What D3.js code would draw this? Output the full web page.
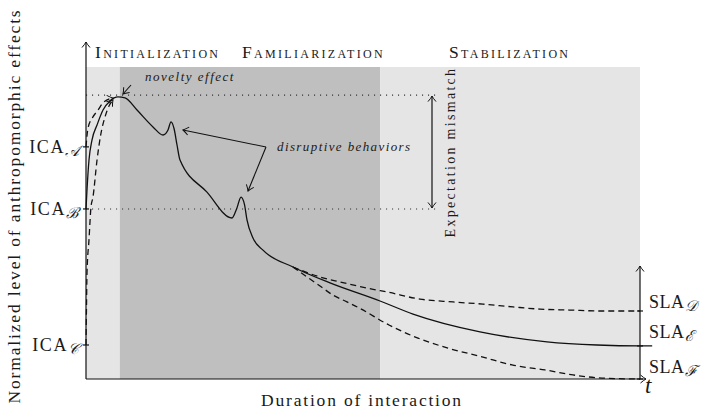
<!DOCTYPE html>
<html>
<head>
<meta charset="utf-8">
<script src="https://cdn.jsdelivr.net/npm/d3@7"></script>
<style>
  body { margin: 0; background: #fff; }
  svg text { font-family: "Liberation Serif", "Times New Roman", serif; fill: #1a1a1a; }
</style>
</head>
<body>
<svg width="716" height="412"></svg>
<script>
// phases of interaction (t from 0 to 100)
var phaseNames = ["Initialization", "Familiarization", "Stabilization"];
var phaseStart = [0, 6.1, 53.1];
var phaseEnd = [6.1, 53.1, 100];
var phaseFill = ["#e5e5e5", "#bfbfbf", "#e5e5e5"];

// initial / stable levels (normalized 0..100)
var icaSub = ["\u{1D49C}", "\u212C", "\u{1D49E}"];
var icaValues = [74.4, 54.5, 10.9];
var slaSub = ["\u{1D49F}", "\u2130", "\u2131"];
var slaValues = [21.8, 10.6, 0];
var peakValue = 91;

// main curve (solid), starts at ICA_B
var mainT = [0, 0.18, 0.54, 1.08, 1.99, 3.07, 4.33, 5.78, 7.04, 9.21, 12.09, 13.9, 14.8, 15.34, 15.9, 16.43, 16.97, 21.84, 26.35, 27.2, 27.98, 28.6, 29.06, 30.14, 31.95, 37.36, 44.04, 53.07, 59.03, 71.12, 83.21, 92.24, 100, 102.2];
var mainY = [54.5, 60.6, 70.2, 76.6, 81.4, 86.2, 89.1, 90.4, 90.1, 86.2, 80.8, 78.2, 79.8, 82.4, 80.2, 75.0, 70.2, 59.9, 51.6, 54.6, 58.3, 56.0, 51.0, 45.2, 41.3, 35.9, 30.8, 25.0, 20.8, 15.1, 11.9, 10.9, 10.6, 10.6];

// dashed rise from ICA_A
var riseAT = [0, 0.36, 1.26, 2.17, 3.07, 4.87];
var riseAY = [74.4, 80.4, 84.0, 86.2, 88.5, 90.1];
// dashed rise from ICA_C
var riseCT = [0, 0.09, 0.18, 0.54, 0.9, 1.26, 1.99, 2.71, 3.43, 4.15, 4.87];
var riseCY = [10.9, 23.1, 34.0, 44.6, 55.1, 58.3, 70.2, 78.8, 84.0, 87.5, 89.4];

// dashed endings to SLA_D and SLA_F
var endDT = [37.36, 42.78, 45.85, 48.56, 51.62, 54.33, 60.29, 66.25, 71.66, 77.08, 81.95, 87.36, 92.78, 100];
var endDY = [35.9, 32.4, 31.1, 30.0, 28.8, 27.9, 25.6, 24.7, 24.0, 23.1, 22.4, 22.1, 21.8, 21.8];
var endFT = [37.36, 39.89, 42.24, 44.58, 47.11, 49.28, 54.69, 59.93, 65.34, 71.48, 76.9, 82.85, 87.9, 93.14, 100];
var endFY = [35.9, 32.7, 29.8, 26.9, 24.7, 22.8, 17.3, 13.1, 9.9, 7.1, 4.5, 2.9, 1.3, 0.3, 0];

var svg = d3.select("svg");
var x = d3.scaleLinear().domain([0, 100]).range([86, 640]);
var y = d3.scaleLinear().domain([0, 100]).range([379, 67]);

function pts(ts, ys) { return ts.map(function(t, i) { return [t, ys[i]]; }); }
var line = d3.line()
    .x(function(d) { return x(d[0]); })
    .y(function(d) { return y(d[1]); })
    .curve(d3.curveMonotoneX);

// arrow marker, open "to" tip
var defs = svg.append("defs");
defs.append("marker")
    .attr("id", "tip")
    .attr("viewBox", "-7 -5 9 10")
    .attr("refX", 0).attr("refY", 0)
    .attr("markerWidth", 9).attr("markerHeight", 10)
    .attr("markerUnits", "userSpaceOnUse")
    .attr("orient", "auto-start-reverse")
  .append("path")
    .attr("d", "M-5.5,-4 Q-2,-1 0,0 Q-2,1 -5.5,4")
    .attr("fill", "none").attr("stroke", "#111").attr("stroke-width", 1);

// phase backgrounds
svg.append("g").selectAll("rect")
  .data(phaseNames)
  .enter().append("rect")
    .attr("x", function(d, i) { return x(phaseStart[i]); })
    .attr("y", y(100))
    .attr("width", function(d, i) { return x(phaseEnd[i]) - x(phaseStart[i]); })
    .attr("height", y(0) - y(100))
    .attr("fill", function(d, i) { return phaseFill[i]; });

// phase titles (small caps)
var titleX = [95, 242, 449];
svg.append("g").selectAll("text")
  .data(phaseNames)
  .enter().append("text")
    .attr("x", function(d, i) { return titleX[i]; })
    .attr("y", 58)
    .style("font-variant", "small-caps")
    .style("font-size", "17.5px")
    .style("letter-spacing", "2.3px")
    .text(function(d) { return d; });

// dotted guide lines at peak and ICA_B
svg.append("g").selectAll("line")
  .data([peakValue, icaValues[1]])
  .enter().append("line")
    .attr("x1", x(0)).attr("x2", 437)
    .attr("y1", function(d) { return y(d); })
    .attr("y2", function(d) { return y(d); })
    .attr("stroke", "#333").attr("stroke-width", 1.1)
    .attr("stroke-dasharray", "1.1 4.9");

// expectation mismatch arrow
svg.append("line")
    .attr("x1", 432).attr("x2", 432)
    .attr("y1", y(peakValue) + 1).attr("y2", y(icaValues[1]) - 1)
    .attr("stroke", "#111").attr("stroke-width", 1.2)
    .attr("marker-start", "url(#tip)").attr("marker-end", "url(#tip)");
svg.append("text")
    .attr("transform", "translate(455,152) rotate(-90)")
    .attr("text-anchor", "middle")
    .style("font-size", "14px")
    .style("letter-spacing", "2.3px")
    .text("Expectation mismatch");

// curves
var curves = svg.append("g").attr("fill", "none").attr("stroke", "#111").attr("stroke-width", 1.3);
curves.append("path").attr("d", line(pts(mainT, mainY)));
curves.append("path").attr("d", line(pts(riseAT, riseAY)))
    .attr("stroke-dasharray", "6 4").attr("marker-end", "url(#tip)");
curves.append("path").attr("d", line(pts(riseCT, riseCY)))
    .attr("stroke-dasharray", "6 4").attr("marker-end", "url(#tip)");
curves.append("path").attr("d", line(pts(endDT, endDY)))
    .attr("stroke-dasharray", "6 4");
curves.append("path").attr("d", line(pts(endFT, endFY)))
    .attr("stroke-dasharray", "6 4");

// axes
var axes = svg.append("g").attr("stroke", "#111").attr("stroke-width", 1.2);
axes.append("line").attr("x1", x(0)).attr("y1", y(0)).attr("x2", x(0)).attr("y2", 42)
    .attr("marker-end", "url(#tip)");
axes.append("line").attr("x1", x(0)).attr("y1", y(0)).attr("x2", 646).attr("y2", y(0))
    .attr("marker-end", "url(#tip)");
axes.append("line").attr("x1", x(100)).attr("y1", y(0)).attr("x2", x(100)).attr("y2", 266)
    .attr("marker-end", "url(#tip)");

// ticks
axes.selectAll(".tick-l").data(icaValues).enter().append("line")
    .attr("x1", x(0) - 3).attr("x2", x(0) + 3)
    .attr("y1", function(d) { return y(d); }).attr("y2", function(d) { return y(d); });
axes.selectAll(".tick-r").data(slaValues).enter().append("line")
    .attr("x1", x(100) - 3).attr("x2", x(100) + 3)
    .attr("y1", function(d) { return y(d); }).attr("y2", function(d) { return y(d); });

// ICA labels
var ica = svg.append("g").selectAll("text")
  .data(icaValues)
  .enter().append("text")
    .attr("x", 79)
    .attr("y", function(d) { return y(d) + 6; })
    .attr("text-anchor", "end")
    .style("font-size", "18px");
ica.append("tspan").style("letter-spacing", "1.6px").text("ICA");
ica.append("tspan").attr("dy", 3).style("font-size", "15px").style("font-style", "italic")
    .text(function(d, i) { return icaSub[i]; });

// SLA labels
var slaY = [302, 332, 367];
var sla = svg.append("g").selectAll("text")
  .data(slaValues)
  .enter().append("text")
    .attr("x", 649)
    .attr("y", function(d, i) { return slaY[i] + 6; })
    .style("font-size", "18px");
sla.append("tspan").style("letter-spacing", "0.5px").text("SLA");
sla.append("tspan").attr("dy", 3).style("font-size", "15px").style("font-style", "italic")
    .text(function(d, i) { return slaSub[i]; });

svg.append("text").attr("x", 645).attr("y", 393)
    .style("font-size", "23px").style("font-style", "italic").text("t");

// annotations
var ann = svg.append("g").attr("stroke", "#111").attr("stroke-width", 1.1).attr("fill", "none");
ann.append("line").attr("x1", 131).attr("y1", 85).attr("x2", 123).attr("y2", 94)
    .attr("marker-end", "url(#tip)");
ann.append("line").attr("x1", 266).attr("y1", 147).attr("x2", 183).attr("y2", 130)
    .attr("marker-end", "url(#tip)");
ann.append("line").attr("x1", 266).attr("y1", 147).attr("x2", 248).attr("y2", 191)
    .attr("marker-end", "url(#tip)");

svg.append("text").attr("x", 145).attr("y", 81)
    .style("font-size", "13px").style("font-style", "italic").style("letter-spacing", "1.5px")
    .text("novelty effect");
svg.append("text").attr("x", 277).attr("y", 151)
    .style("font-size", "13px").style("font-style", "italic").style("letter-spacing", "1.4px")
    .text("disruptive behaviors");

// axis titles
svg.append("text")
    .attr("x", 362).attr("y", 406)
    .attr("text-anchor", "middle")
    .style("font-size", "17.5px").style("letter-spacing", "1.8px")
    .text("Duration of interaction");
svg.append("text")
    .attr("transform", "translate(20,206) rotate(-90)")
    .attr("text-anchor", "middle")
    .style("font-size", "17.5px").style("letter-spacing", "1.85px")
    .text("Normalized level of anthropomorphic effects");
</script>
</body>
</html>
